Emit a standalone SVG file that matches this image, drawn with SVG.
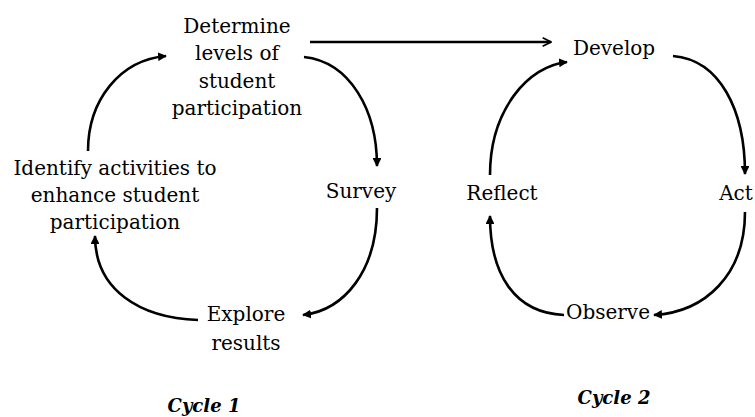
<svg xmlns="http://www.w3.org/2000/svg" width="755" height="417" viewBox="0 0 755 417">
<style>
  .t { font-family: "DejaVu Serif", "Liberation Serif", serif; font-size: 20px; fill: #000; text-anchor: middle; }
  .cap { font-family: "DejaVu Serif", "Liberation Serif", serif; font-size: 18px; font-weight: bold; font-style: italic; fill: #000; text-anchor: middle; }
  .c { fill: none; stroke: #000; stroke-width: 2.6; }
</style>
<defs>
  <marker id="tri" viewBox="0 0 10 10" refX="9" refY="5" markerWidth="3.4" markerHeight="3.4" orient="auto" markerUnits="strokeWidth">
    <path d="M0,0 L10,5 L0,10 Z" fill="#000"/>
  </marker>
  <marker id="open" viewBox="0 0 10 10" refX="9" refY="5" markerWidth="4" markerHeight="4" orient="auto" markerUnits="strokeWidth">
    <path d="M1,1 L9,5 L1,9" fill="none" stroke="#000" stroke-width="1.6"/>
  </marker>
</defs>
<rect width="755" height="417" fill="#fff"/>
<g id="connectors">
  <path class="c" d="M310,42 L551,42" marker-end="url(#open)"/>
  <path class="c" d="M304,57 C350,62 377,110 377,166" marker-end="url(#tri)"/>
  <path class="c" d="M377,208 C377,270 345,310 303,315" marker-end="url(#tri)"/>
  <path class="c" d="M198,320 C140,318 95,290 95,236" marker-end="url(#tri)"/>
  <path class="c" d="M88,151 C88,100 120,60 166,56" marker-end="url(#tri)"/>
  <path class="c" d="M490,175 C490,110 528,66 567,62" marker-end="url(#tri)"/>
  <path class="c" d="M673,56 C720,60 745,110 745,174" marker-end="url(#tri)"/>
  <path class="c" d="M745,212 C745,275 705,312 654,315" marker-end="url(#tri)"/>
  <path class="c" d="M564,315 C515,313 490,275 490,216" marker-end="url(#tri)"/>
</g>
<g id="determine">
  <text class="t" x="237" y="33">Determine</text>
  <text class="t" x="237" y="60">levels of</text>
  <text class="t" x="237" y="88">student</text>
  <text class="t" x="237" y="115">participation</text>
</g>
<g id="identify">
  <text class="t" x="115" y="175">Identify activities to</text>
  <text class="t" x="115" y="202">enhance student</text>
  <text class="t" x="115" y="229">participation</text>
</g>
<g id="survey"><text class="t" x="361" y="198">Survey</text></g>
<g id="explore">
  <text class="t" x="246" y="321">Explore</text>
  <text class="t" x="246" y="350">results</text>
</g>
<g id="develop"><text class="t" x="614" y="55">Develop</text></g>
<g id="reflect"><text class="t" x="502" y="200">Reflect</text></g>
<g id="act"><text class="t" x="736" y="200">Act</text></g>
<g id="observe"><text class="t" x="608" y="319">Observe</text></g>
<g id="cycle1"><text class="cap" x="204" y="412">Cycle 1</text></g>
<g id="cycle2"><text class="cap" x="614" y="404">Cycle 2</text></g>
</svg>
